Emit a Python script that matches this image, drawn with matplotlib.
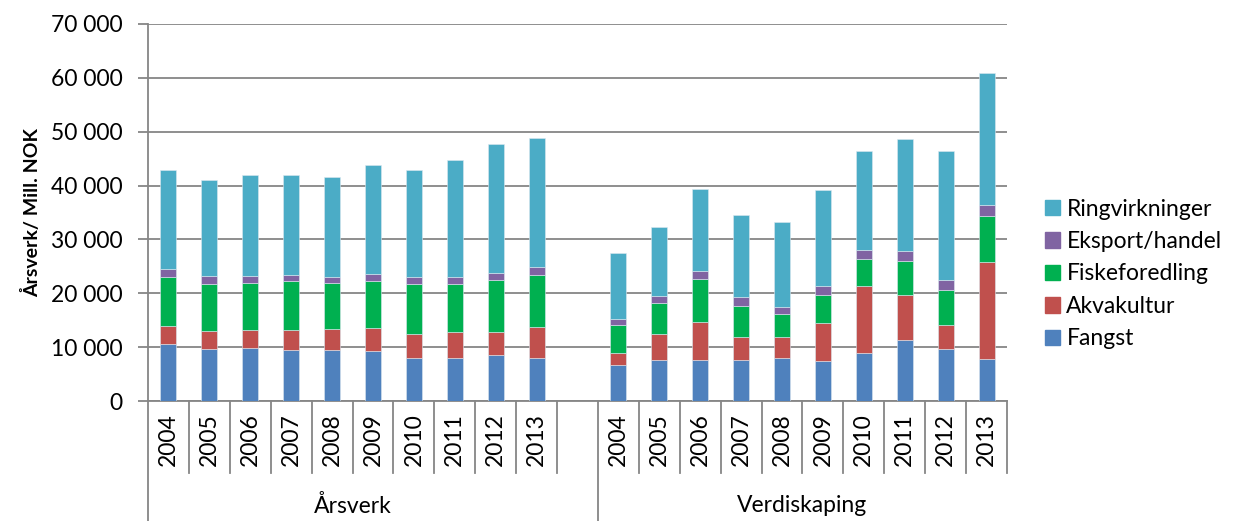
import numpy as np
import matplotlib
matplotlib.use("Agg")
import matplotlib.pyplot as plt
from matplotlib.patches import Patch
from matplotlib import transforms
from matplotlib.ticker import FuncFormatter, MultipleLocator

plt.rcParams['font.family'] = ['Lato', 'DejaVu Sans']

years = ["2004", "2005", "2006", "2007", "2008", "2009", "2010", "2011", "2012", "2013"]
groups = ["Årsverk", "Verdiskaping"]
series = ["Fangst", "Akvakultur", "Fiskeforedling", "Eksport/handel", "Ringvirkninger"]
colors = ["#4F81BD", "#C0504D", "#00B050", "#8064A2", "#4BACC6"]

# Årsverk
fangst_a = [10500, 9700, 9850, 9550, 9550, 9300, 7900, 7950, 8450, 8050]
akva_a = [3400, 3300, 3400, 3700, 3900, 4250, 4600, 4850, 4450, 5750]
fiske_a = [9200, 8700, 8650, 8950, 8400, 8700, 9200, 8900, 9600, 9650]
eksport_a = [1500, 1500, 1300, 1250, 1250, 1300, 1400, 1350, 1300, 1350]
ring_a = [18200, 17800, 18700, 18450, 18400, 20200, 19700, 21700, 23900, 24100]

# Verdiskaping
fangst_v = [6600, 7700, 7700, 7700, 7950, 7450, 8900, 11400, 9650, 7800]
akva_v = [2300, 4800, 7000, 4200, 3850, 6950, 12400, 8350, 4400, 17950]
fiske_v = [5200, 5700, 8000, 5750, 4350, 5300, 5000, 6300, 6500, 8650]
eksport_v = [1100, 1250, 1500, 1650, 1300, 1650, 1650, 1750, 1850, 1950]
ring_v = [12350, 12800, 15150, 15300, 15750, 17800, 18400, 20900, 24000, 24500]

data_a = [fangst_a, akva_a, fiske_a, eksport_a, ring_a]
data_v = [fangst_v, akva_v, fiske_v, eksport_v, ring_v]

fig = plt.figure(figsize=(12.37, 5.21), dpi=100)
ax = fig.add_axes([148 / 1237, 1 - 401 / 521, (1007 - 148) / 1237, 377 / 521])

x_a = np.arange(10)
x_v = np.arange(11, 21)
width = 0.39

for xs, data in [(x_a, data_a), (x_v, data_v)]:
    bottom = np.zeros(10)
    for vals, col in zip(data, colors):
        vals = np.array(vals)
        ax.bar(xs, vals, width, bottom=bottom, color=col, edgecolor="#dde8f0",
               linewidth=0.4, zorder=3)
        bottom += vals

grid_col = "#868686"
fs = 16.5
ax.set_xlim(-0.5, 20.5)
ax.set_ylim(0, 70000)
ax.yaxis.set_major_locator(MultipleLocator(10000))
ax.yaxis.set_major_formatter(FuncFormatter(lambda v, p: f"{int(v):,}".replace(",", " ")))
ax.grid(axis="y", color=grid_col, linewidth=1.3, zorder=0)
ax.tick_params(axis="y", length=7, width=1.3, color=grid_col, labelsize=fs, pad=11)
ax.set_xticks([])
for s in ["top", "right"]:
    ax.spines[s].set_visible(False)
for s in ["left", "bottom"]:
    ax.spines[s].set_color(grid_col)
    ax.spines[s].set_linewidth(1.3)
ax.set_ylabel("Årsverk/ Mill. NOK", fontsize=14, fontweight="bold")
ax.yaxis.set_label_coords(-0.124, 0.5)

# multi-level category axis
trans = transforms.blended_transform_factory(ax.transData, ax.transAxes)
ax_h = 377.0
short = -72 / ax_h
long = -122 / ax_h
for i in range(22):
    xb = i - 0.5
    y1 = long if i in (0, 11) else short
    ax.plot([xb, xb], [0, y1], color=grid_col, linewidth=1.3, transform=trans,
            clip_on=False)
for xs in (x_a, x_v):
    for x, yr in zip(xs, years):
        ax.text(x, -12 / ax_h, yr, rotation=90, ha="center", va="top",
                fontsize=fs, transform=trans)
ax.text(4.5, -105 / ax_h, groups[0], ha="center", va="center", fontsize=fs,
        transform=trans)
ax.text(15.5, -105 / ax_h, groups[1], ha="center", va="center", fontsize=fs,
        transform=trans)

handles = [Patch(color=c, label=s) for s, c in zip(series, colors)][::-1]
fig.legend(handles=handles, loc="center left", bbox_to_anchor=(1024 / 1237, 1 - 274 / 521),
           frameon=False, fontsize=fs, handlelength=0.65, handleheight=0.65,
           handletextpad=0.3, labelspacing=0.5)

fig.savefig("out.png", dpi=100)
